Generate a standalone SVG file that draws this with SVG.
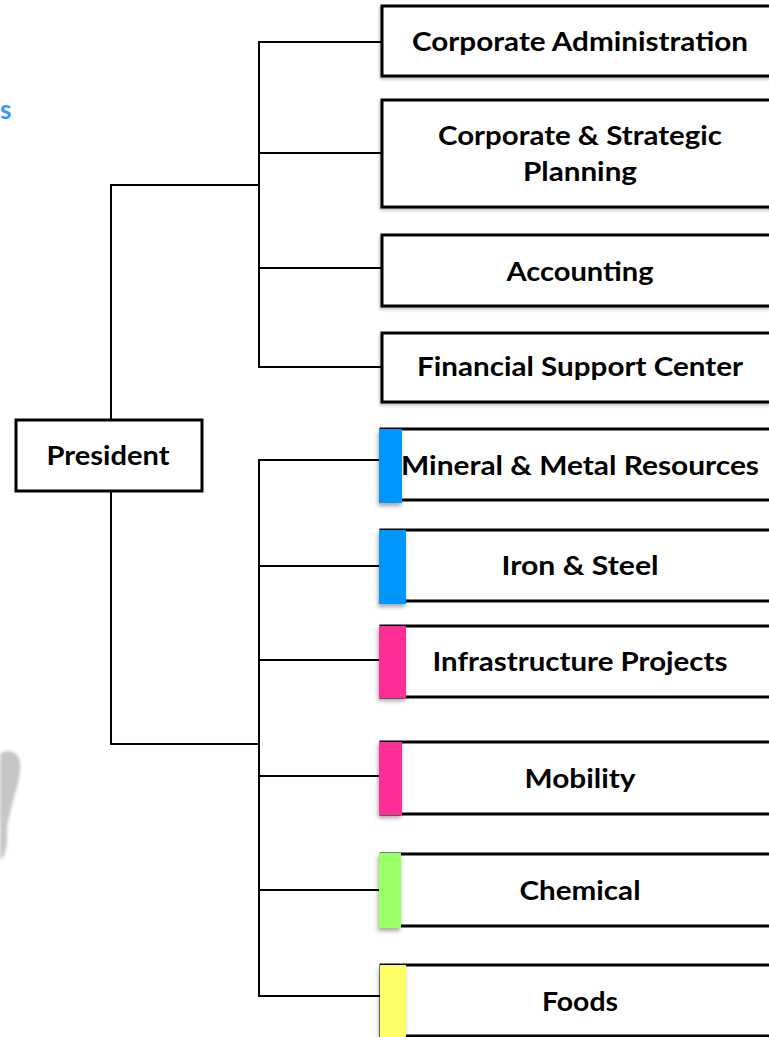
<svg xmlns="http://www.w3.org/2000/svg" width="769" height="1037" viewBox="0 0 769 1037">
<defs>
<style>
.box{fill:#fff;stroke:#000;stroke-width:3}
.t{font-family:Lato,"Open Sans","Liberation Sans",sans-serif;font-weight:bold;font-size:26px;fill:#000;text-anchor:middle}
.c line,.c polyline{stroke:#000;stroke-width:2;fill:none}
.tab{filter:url(#sh)}
</style>
<filter id="sh" x="-50%" y="-20%" width="200%" height="150%">
<feDropShadow dx="-1" dy="3" stdDeviation="2" flood-color="#000" flood-opacity="0.35"/>
</filter>
<filter id="bl" x="-50%" y="-50%" width="200%" height="200%">
<feGaussianBlur stdDeviation="1.8"/>
</filter>
<filter id="bs" x="-20%" y="-20%" width="140%" height="140%">
<feDropShadow dx="-1" dy="2" stdDeviation="1.5" flood-color="#000" flood-opacity="0.25"/>
</filter>
</defs>
<rect width="769" height="1037" fill="#fff"/>
<text x="0" y="119" font-family="Lato,'Open Sans',sans-serif" font-weight="bold" font-size="26" fill="#3399ff">s</text>
<path d="M0,754 C6,749 15,750 19,758 C22,768 19,782 15,794 C12,804 10,814 8,822 C6,830 8,840 6,848 C5,854 3,858 0,860 Z" fill="#c6c6c6" filter="url(#bl)"/>
<g class="c" id="connectors">
<polyline points="382,42 259,42 259,367 382,367"/>
<line x1="259" y1="153" x2="382" y2="153"/>
<line x1="259" y1="268" x2="382" y2="268"/>
<polyline points="111,419 111,185 259,185"/>
<polyline points="111,491 111,744 259,744"/>
<polyline points="380,460 259,460 259,996 380,996"/>
<line x1="259" y1="566" x2="380" y2="566"/>
<line x1="259" y1="660" x2="380" y2="660"/>
<line x1="259" y1="776" x2="380" y2="776"/>
<line x1="259" y1="890" x2="380" y2="890"/>
</g>
<g id="corp-admin"><rect class="box" x="382" y="6" width="420" height="70" filter="url(#bs)"/><text class="t" x="580" y="51" textLength="336" lengthAdjust="spacingAndGlyphs">Corporate Administration</text></g>
<g id="corp-strategic"><rect class="box" x="382" y="100" width="420" height="107" filter="url(#bs)"/><text class="t" x="580" y="145" textLength="284" lengthAdjust="spacingAndGlyphs">Corporate &amp; Strategic</text><text class="t" x="580" y="181" textLength="114" lengthAdjust="spacingAndGlyphs">Planning</text></g>
<g id="accounting"><rect class="box" x="382" y="235" width="420" height="71" filter="url(#bs)"/><text class="t" x="580" y="281" textLength="147" lengthAdjust="spacingAndGlyphs">Accounting</text></g>
<g id="financial"><rect class="box" x="382" y="333" width="420" height="69" filter="url(#bs)"/><text class="t" x="580" y="376" textLength="326" lengthAdjust="spacingAndGlyphs">Financial Support Center</text></g>
<g id="president"><rect class="box" x="16" y="420" width="186" height="71"/><text class="t" x="108" y="465" textLength="123" lengthAdjust="spacingAndGlyphs">President</text></g>
<g id="mineral"><rect class="box" x="381" y="429" width="420" height="71"/><rect class="tab" x="379" y="429" width="23" height="74" fill="#0096ff"/><text class="t" x="580" y="475" textLength="358" lengthAdjust="spacingAndGlyphs">Mineral &amp; Metal Resources</text></g>
<g id="iron"><rect class="box" x="381" y="530" width="420" height="71"/><rect class="tab" x="379" y="530" width="27" height="74" fill="#0096ff"/><text class="t" x="580" y="575" textLength="157" lengthAdjust="spacingAndGlyphs">Iron &amp; Steel</text></g>
<g id="infra"><rect class="box" x="381" y="626" width="420" height="71"/><rect class="tab" x="379" y="626" width="27" height="72" fill="#ff2f96"/><text class="t" x="580" y="671" textLength="295" lengthAdjust="spacingAndGlyphs">Infrastructure Projects</text></g>
<g id="mobility"><rect class="box" x="381" y="742" width="420" height="72"/><rect class="tab" x="379" y="742" width="23" height="73" fill="#ff2f96"/><text class="t" x="580" y="788" textLength="111" lengthAdjust="spacingAndGlyphs">Mobility</text></g>
<g id="chemical"><rect class="box" x="381" y="854" width="420" height="72"/><rect class="tab" x="379" y="853" width="22" height="75" fill="#99ff66"/><text class="t" x="580" y="900" textLength="121" lengthAdjust="spacingAndGlyphs">Chemical</text></g>
<g id="foods"><rect class="box" x="381" y="965" width="420" height="71"/><rect class="tab" x="380" y="965" width="26" height="72" fill="#ffff66"/><text class="t" x="580" y="1011" textLength="76" lengthAdjust="spacingAndGlyphs">Foods</text></g>
</svg>
